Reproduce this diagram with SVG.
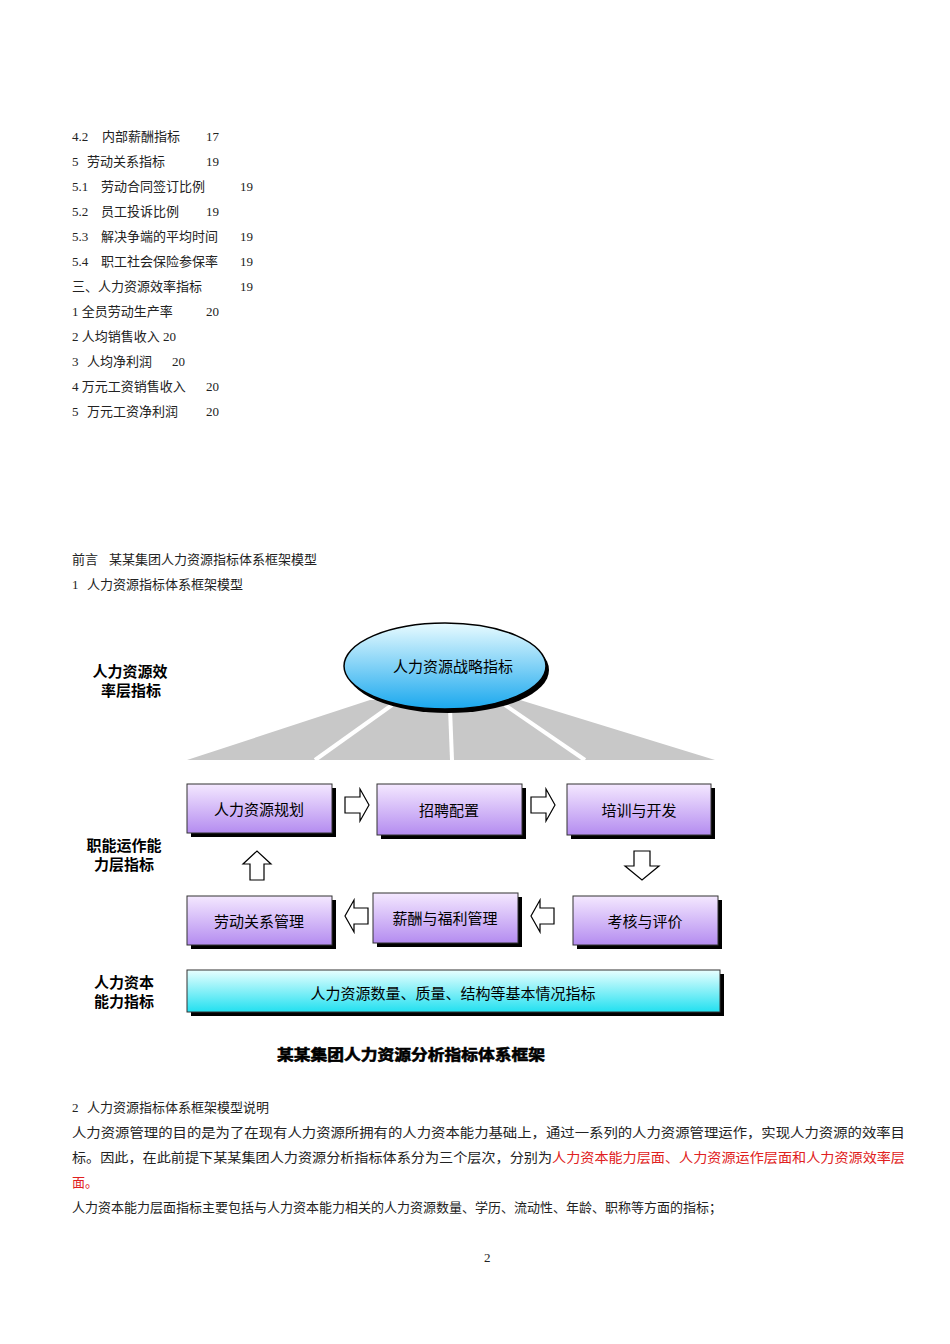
<svg xmlns="http://www.w3.org/2000/svg" width="950" height="1344" viewBox="0 0 950 1344">
<defs>
<style>
.t{font-family:"Liberation Serif","Noto Sans CJK SC",serif;font-size:13px;fill:#222}
.lb{font-family:"Noto Sans CJK SC",sans-serif;font-size:15px;font-weight:bold;fill:#000;text-anchor:middle}
.bx{font-family:"Noto Sans CJK SC",sans-serif;font-size:15px;fill:#000;text-anchor:middle}
.box{fill:url(#pg);stroke:#333;stroke-width:1}
.sh{fill:#000}
.ar{fill:#fff;stroke:#000;stroke-width:1.2}
.red{fill:#e02020}
</style>
<linearGradient id="pg" x1="0" y1="0" x2="0" y2="1"><stop offset="0" stop-color="#f4e8ff"/><stop offset="1" stop-color="#b48cf0"/></linearGradient>
<linearGradient id="cg" x1="0" y1="0" x2="0" y2="1"><stop offset="0" stop-color="#e8ffff"/><stop offset="1" stop-color="#22e0f0"/></linearGradient>
<linearGradient id="eg" x1="0" y1="0" x2="0" y2="1"><stop offset="0" stop-color="#e8fbff"/><stop offset="1" stop-color="#1aa8ee"/></linearGradient>
</defs>
<g id="toc" class="t">
<text x="72" y="141">4.2 <tspan x="102">内部薪酬指标</tspan><tspan x="206">17</tspan></text>
<text x="72" y="166">5 <tspan x="87">劳动关系指标</tspan><tspan x="206">19</tspan></text>
<text x="72" y="191">5.1 <tspan x="101">劳动合同签订比例</tspan><tspan x="240">19</tspan></text>
<text x="72" y="216">5.2 <tspan x="101">员工投诉比例</tspan><tspan x="206">19</tspan></text>
<text x="72" y="241">5.3 <tspan x="101">解决争端的平均时间</tspan><tspan x="240">19</tspan></text>
<text x="72" y="266">5.4 <tspan x="101">职工社会保险参保率</tspan><tspan x="240">19</tspan></text>
<text x="72" y="291">三、人力资源效率指标<tspan x="240">19</tspan></text>
<text x="72" y="316">1 全员劳动生产率<tspan x="206">20</tspan></text>
<text x="72" y="341">2 人均销售收入 20</text>
<text x="72" y="366">3 <tspan x="87">人均净利润</tspan><tspan x="172">20</tspan></text>
<text x="72" y="391">4 万元工资销售收入<tspan x="206">20</tspan></text>
<text x="72" y="416">5 <tspan x="87">万元工资净利润</tspan><tspan x="206">20</tspan></text>
<text x="72" y="564">前言 <tspan x="109">某某集团人力资源指标体系框架模型</tspan></text>
<text x="72" y="589">1 <tspan x="87">人力资源指标体系框架模型</tspan></text>
</g>
<g id="fan">
<polygon points="370,700 520,700 715,760 187,760" fill="#c8c8c8"/>
<line x1="392" y1="705" x2="315" y2="760" stroke="#fff" stroke-width="4"/>
<line x1="450" y1="708" x2="452" y2="760" stroke="#fff" stroke-width="4"/>
<line x1="505" y1="705" x2="585" y2="760" stroke="#fff" stroke-width="4"/>
</g>
<g id="strategy">
<ellipse cx="448" cy="670" rx="101" ry="43" fill="#000"/>
<ellipse cx="445" cy="666" rx="101" ry="43" fill="url(#eg)" stroke="#000" stroke-width="1.5"/>
<text class="bx" x="453" y="672">人力资源战略指标</text>
</g>
<g id="labels">
<text class="lb" x="130" y="677">人力资源效</text><text class="lb" x="131" y="696">率层指标</text>
<text class="lb" x="124" y="851">职能运作能</text><text class="lb" x="124" y="870">力层指标</text>
<text class="lb" x="124" y="988">人力资本</text><text class="lb" x="124" y="1007">能力指标</text>
</g>
<g id="n1"><rect class="sh" x="191" y="788" width="145" height="49"/><rect class="box" x="187" y="784" width="145" height="49"/><text class="bx" x="259" y="815">人力资源规划</text></g>
<g id="n2"><rect class="sh" x="381" y="788" width="145" height="51"/><rect class="box" x="377" y="784" width="145" height="51"/><text class="bx" x="449" y="816">招聘配置</text></g>
<g id="n3"><rect class="sh" x="571" y="788" width="144" height="51"/><rect class="box" x="567" y="784" width="144" height="51"/><text class="bx" x="639" y="816">培训与开发</text></g>
<g id="n4"><rect class="sh" x="191" y="900" width="145" height="49"/><rect class="box" x="187" y="896" width="145" height="49"/><text class="bx" x="259" y="927">劳动关系管理</text></g>
<g id="n5"><rect class="sh" x="377" y="897" width="145" height="50"/><rect class="box" x="373" y="893" width="145" height="50"/><text class="bx" x="445" y="924">薪酬与福利管理</text></g>
<g id="n6"><rect class="sh" x="577" y="900" width="145" height="49"/><rect class="box" x="573" y="896" width="145" height="49"/><text class="bx" x="645" y="927">考核与评价</text></g>
<g id="n7"><rect class="sh" x="191" y="974" width="533" height="42"/><rect x="187" y="970" width="533" height="42" fill="url(#cg)" stroke="#333"/><text class="bx" x="453" y="999">人力资源数量、质量、结构等基本情况指标</text></g>
<g id="connectors">
<polygon class="ar" points="345,797 360,797 360,789 369,805 360,821 360,813 345,813"/>
<polygon class="ar" points="531,797 546,797 546,789 555,805 546,821 546,813 531,813"/>
<polygon class="ar" points="250,880 250,864 243,864 257,851 271,864 264,864 264,880"/>
<polygon class="ar" points="634,851 650,851 650,866 659,866 642,880 625,866 634,866"/>
<polygon class="ar" points="368,908 354,908 354,900 345,916 354,932 354,924 368,924"/>
<polygon class="ar" points="554,908 540,908 540,900 531,916 540,932 540,924 554,924"/>
</g>
<g id="caption">
<text class="lb" x="411" y="1060" font-size="16" stroke="#000" stroke-width="0.6" textLength="268" lengthAdjust="spacingAndGlyphs">某某集团人力资源分析指标体系框架</text>
</g>
<g id="body" class="t">
<text x="72" y="1112">2 <tspan x="87">人力资源指标体系框架模型说明</tspan></text>
<text x="72" y="1137" textLength="833" lengthAdjust="spacingAndGlyphs">人力资源管理的目的是为了在现有人力资源所拥有的人力资本能力基础上，通过一系列的人力资源管理运作，实现人力资源的效率目</text>
<text x="72" y="1162" textLength="833" lengthAdjust="spacingAndGlyphs">标。因此，在此前提下某某集团人力资源分析指标体系分为三个层次，分别为<tspan class="red">人力资本能力层面、人力资源运作层面和人力资源效率层</tspan></text>
<text x="72" y="1187" class="red">面。</text>
<text x="72" y="1212">人力资本能力层面指标主要包括与人力资本能力相关的人力资源数量、学历、流动性、年龄、职称等方面的指标；</text>
<text x="484" y="1262">2</text>
</g>
</svg>
